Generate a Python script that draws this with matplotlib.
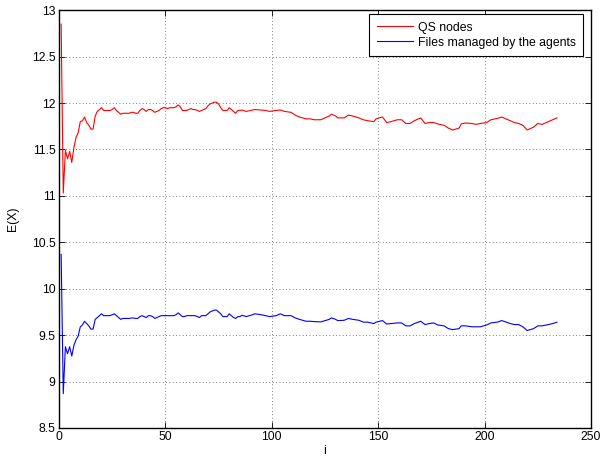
import numpy as np
import matplotlib
matplotlib.use("Agg")
import matplotlib.pyplot as plt
from matplotlib.ticker import MultipleLocator, FormatStrFormatter

plt.rcParams['font.family'] = ['Liberation Sans', 'DejaVu Sans']
plt.rcParams['font.size'] = 8.8

# first 85 steps, one value per step
head_i = list(range(1, 86))
qs_head = [12.85, 11.03, 11.49, 11.40, 11.48, 11.36, 11.52, 11.63, 11.68, 11.80,
           11.81, 11.85, 11.79, 11.76, 11.72, 11.72, 11.86, 11.91, 11.93, 11.95,
           11.92, 11.92, 11.92, 11.92, 11.93, 11.95, 11.92, 11.90, 11.88, 11.89,
           11.89, 11.89, 11.89, 11.90, 11.90, 11.89, 11.89, 11.92, 11.94, 11.93,
           11.91, 11.93, 11.93, 11.92, 11.90, 11.91, 11.92, 11.94, 11.95, 11.95,
           11.94, 11.95, 11.95, 11.95, 11.96, 11.98, 11.96, 11.92, 11.92, 11.92,
           11.93, 11.94, 11.93, 11.93, 11.92, 11.91, 11.92, 11.93, 11.94, 11.97,
           11.99, 12.00, 12.01, 12.01, 11.99, 11.95, 11.92, 11.92, 11.92, 11.95,
           11.93, 11.91, 11.89, 11.92, 11.92]
files_head = [10.37, 8.87, 9.375, 9.30, 9.375, 9.275, 9.39, 9.45, 9.49, 9.59,
              9.61, 9.65, 9.625, 9.60, 9.565, 9.565, 9.67, 9.69, 9.71, 9.73,
              9.71, 9.71, 9.71, 9.71, 9.72, 9.73, 9.71, 9.69, 9.67, 9.68,
              9.68, 9.68, 9.68, 9.685, 9.685, 9.68, 9.68, 9.70, 9.71, 9.70,
              9.69, 9.71, 9.71, 9.70, 9.68, 9.69, 9.70, 9.71, 9.71, 9.71,
              9.71, 9.71, 9.71, 9.71, 9.72, 9.74, 9.72, 9.70, 9.70, 9.71,
              9.71, 9.71, 9.71, 9.71, 9.70, 9.69, 9.71, 9.71, 9.71, 9.73,
              9.75, 9.76, 9.77, 9.77, 9.75, 9.73, 9.70, 9.70, 9.70, 9.73,
              9.71, 9.69, 9.68, 9.70, 9.70]

# remaining steps, read at coarser spacing
tail_i = [86, 88, 91, 92, 95, 97, 99, 102, 104, 106, 109, 111, 113, 116, 118,
          120, 123, 125, 127, 128, 130, 131, 134, 136, 138, 141, 143, 145, 148, 149,
          152, 154, 156, 159, 161, 163, 165, 167, 170, 172, 174, 176, 178, 181, 183,
          185, 188, 189, 191, 194, 196, 198, 201, 203, 206, 208, 209, 212, 214, 216,
          218, 220, 223, 225, 227, 230, 232, 234]
qs_tail = [11.925, 11.91, 11.925, 11.93, 11.925, 11.92, 11.91, 11.92, 11.925, 11.91,
           11.90, 11.87, 11.85, 11.83, 11.83, 11.82, 11.82, 11.84, 11.86, 11.88,
           11.86, 11.84, 11.84, 11.87, 11.86, 11.84, 11.82, 11.81, 11.80, 11.83,
           11.85, 11.79, 11.80, 11.82, 11.82, 11.78, 11.78, 11.81, 11.84, 11.78,
           11.79, 11.79, 11.775, 11.76, 11.73, 11.71, 11.73, 11.775, 11.785, 11.78,
           11.77, 11.78, 11.79, 11.82, 11.835, 11.85, 11.84, 11.81, 11.79, 11.78,
           11.76, 11.71, 11.74, 11.78, 11.77, 11.80, 11.82, 11.84]
files_tail = [9.714, 9.70, 9.72, 9.73, 9.72, 9.71, 9.70, 9.71, 9.73, 9.71,
              9.71, 9.686, 9.67, 9.65, 9.65, 9.646, 9.643, 9.657, 9.67, 9.686,
              9.67, 9.657, 9.66, 9.68, 9.67, 9.66, 9.64, 9.64, 9.625, 9.64,
              9.657, 9.62, 9.625, 9.632, 9.632, 9.60, 9.60, 9.625, 9.65, 9.614,
              9.625, 9.632, 9.61, 9.60, 9.57, 9.56, 9.57, 9.60, 9.60, 9.59,
              9.59, 9.59, 9.61, 9.632, 9.64, 9.657, 9.65, 9.625, 9.614, 9.614,
              9.59, 9.55, 9.57, 9.60, 9.60, 9.614, 9.625, 9.64]

i_vals = np.array(head_i + tail_i)
qs_nodes = np.array(qs_head + qs_tail)
files_agents = np.array(files_head + files_tail)

fig = plt.figure(figsize=(6.16, 4.62), dpi=100)
ax = fig.add_axes([0.0958, 0.0736, 0.8636, 0.9043])

ax.plot(i_vals, qs_nodes, color='#ff0000', lw=0.8, label='QS nodes')
ax.plot(i_vals, files_agents, color='#0000ff', lw=0.8, label='Files managed by the agents')

ax.set_xlim(0, 250)
ax.set_ylim(8.5, 13)
ax.xaxis.set_major_locator(MultipleLocator(50))
ax.yaxis.set_major_locator(MultipleLocator(0.5))
ax.yaxis.set_major_formatter(FormatStrFormatter('%g'))
ax.tick_params(direction='in', top=True, right=True, length=4, width=0.6, pad=2.5)
ax.grid(True, linestyle=(0, (1, 3)), color='#555555', lw=0.6)
for s in ax.spines.values():
    s.set_linewidth(1.0)

ax.set_xlabel('i', labelpad=1)
ax.set_ylabel('E(X)', labelpad=9)

leg = ax.legend(loc='upper right', bbox_to_anchor=(0.985, 0.99), fancybox=False,
                framealpha=1, edgecolor='black', borderaxespad=0,
                handlelength=2.95, handletextpad=0.4, borderpad=0.6, labelspacing=0.25)
leg.get_frame().set_linewidth(0.8)

fig.savefig('out.png', dpi=100)
